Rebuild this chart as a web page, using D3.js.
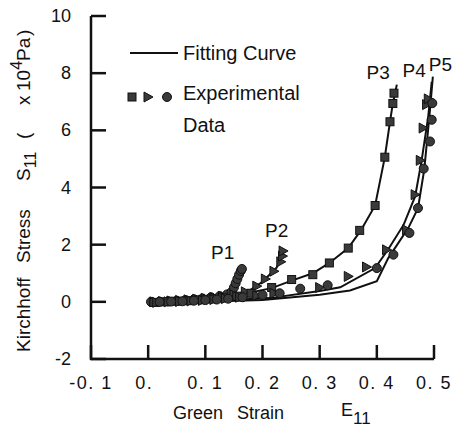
<!DOCTYPE html>
<html>
<head>
<meta charset="utf-8">
<script src="https://cdnjs.cloudflare.com/ajax/libs/d3/7.8.5/d3.min.js"></script>
<style>
  body { margin: 0; background: #fff; }
  text { font-family: "Liberation Sans", Arial, sans-serif; fill: #111; white-space: pre; }
</style>
</head>
<body>
<div id="chart"></div>
<script>
// experimental points [strain E11, stress S11 (x10^4 Pa)]
var p1Data = [[0.005,0],[0.02,0.01],[0.035,0.02],[0.05,0.04],[0.065,0.06],[0.08,0.09],[0.095,0.12],[0.11,0.16],[0.125,0.2],[0.138,0.26],[0.146,0.35],[0.15,0.5],[0.153,0.65],[0.156,0.8],[0.159,0.95],[0.162,1.08],[0.164,1.15]]
var p2Data = [[0.01,0],[0.025,0.01],[0.04,0.03],[0.055,0.05],[0.07,0.07],[0.085,0.09],[0.1,0.12],[0.115,0.15],[0.13,0.19],[0.15,0.25],[0.17,0.35],[0.19,0.55],[0.205,0.8],[0.22,1.07],[0.232,1.4],[0.235,1.6],[0.236,1.78]]
var p3Data = [[0.01,-0.02],[0.03,0],[0.05,0.02],[0.07,0.04],[0.09,0.07],[0.11,0.1],[0.13,0.14],[0.155,0.2],[0.18,0.3],[0.216,0.5],[0.251,0.78],[0.288,0.95],[0.317,1.36],[0.35,1.88],[0.37,2.5],[0.397,3.37],[0.414,5.06],[0.423,6.3],[0.428,6.94],[0.43,7.3]]
var p4Data = [[0.015,-0.02],[0.035,0],[0.055,0.01],[0.075,0.03],[0.095,0.05],[0.115,0.08],[0.135,0.11],[0.16,0.16],[0.19,0.22],[0.22,0.3],[0.3,0.5],[0.35,0.89],[0.382,1.22],[0.417,1.82],[0.452,2.52],[0.467,3.75],[0.476,4.95],[0.481,6.08],[0.487,6.9],[0.49,7.1]]
var p5Data = [[0.02,0],[0.04,0.01],[0.06,0.02],[0.08,0.04],[0.1,0.06],[0.12,0.08],[0.14,0.11],[0.165,0.16],[0.2,0.24],[0.23,0.3],[0.266,0.46],[0.314,0.58],[0.4,1.18],[0.429,1.65],[0.457,2.41],[0.472,3.28],[0.482,4.66],[0.493,5.61],[0.496,6.37],[0.497,6.95]]

// fitting curves
var p1Fit = [[0,0],[0.08,0.06],[0.13,0.25],[0.15,0.55],[0.165,1.1]]
var p2Fit = [[0,0],[0.1,0.08],[0.17,0.3],[0.2,0.7],[0.225,1.2],[0.238,1.8]]
var p3Fit = [[0.01,0],[0.1,0.1],[0.16,0.25],[0.216,0.48],[0.251,0.74],[0.288,1.0],[0.317,1.36],[0.35,1.88],[0.372,2.5],[0.397,3.37],[0.414,5.06],[0.423,6.3],[0.428,6.94],[0.435,7.6]]
var p4Fit = [[0,0],[0.1,0.02],[0.213,0.13],[0.3,0.38],[0.336,0.51],[0.397,1.18],[0.42,1.84],[0.447,2.7],[0.467,3.69],[0.478,4.9],[0.49,6.5],[0.496,7.7]]
var p5Fit = [[0,0],[0.1,0.0],[0.2,0.06],[0.3,0.25],[0.353,0.4],[0.4,0.72],[0.42,1.53],[0.455,2.58],[0.472,3.28],[0.483,4.63],[0.492,6.5],[0.498,7.88]]

var series = [
  {name: 'P1', pts: p1Data, fit: p1Fit, shape: 'circle', label: [0.110, 1.49]},
  {name: 'P2', pts: p2Data, fit: p2Fit, shape: 'triangle', label: [0.2045, 2.26]},
  {name: 'P3', pts: p3Data, fit: p3Fit, shape: 'square', label: [0.382, 7.78]},
  {name: 'P4', pts: p4Data, fit: p4Fit, shape: 'triangle', label: [0.445, 7.88]},
  {name: 'P5', pts: p5Data, fit: p5Fit, shape: 'circle', label: [0.491, 8.06]}
]

var xTicks = [-0.1, 0, 0.1, 0.2, 0.3, 0.4, 0.5]
var xTickLabels = ['-0. 1', '0.', '0. 1', '0. 2', '0. 3', '0. 4', '0. 5']
var yTicks = [-2, 0, 2, 4, 6, 8, 10]

var width = 461, height = 429

var svg = d3.select('#chart').append('svg')
  .attr('width', width)
  .attr('height', height)

var x = d3.scaleLinear().domain([-0.1, 0.5]).range([91, 434])
var y = d3.scaleLinear().domain([-2, 10]).range([359, 16])

// axes
var axes = svg.append('g').attr('stroke', '#111').attr('stroke-width', 2.5)
axes.append('line').attr('x1', x(-0.1)).attr('x2', x(-0.1)).attr('y1', y(10)).attr('y2', y(-2) + 1)
axes.append('line').attr('x1', x(-0.1) - 1).attr('x2', x(0.5)).attr('y1', y(-2)).attr('y2', y(-2))

axes.selectAll('.yt').data(yTicks).join('line')
  .attr('x1', x(-0.1)).attr('x2', x(-0.1) + 15)
  .attr('y1', d => y(d)).attr('y2', d => y(d))
axes.selectAll('.xt').data(xTicks).join('line')
  .attr('x1', d => x(d)).attr('x2', d => x(d))
  .attr('y1', y(-2)).attr('y2', y(-2) - 14)

svg.selectAll('.ylab').data(yTicks).join('text')
  .attr('x', 71).attr('y', d => y(d) + 6)
  .attr('text-anchor', 'end')
  .style('font-size', '18px')
  .text(d => d)

svg.selectAll('.xlab').data(xTicks).join('text')
  .attr('x', (d, i) => x(d) + (xTickLabels[i].endsWith('.') ? -4 : 0))
  .attr('y', 389)
  .attr('text-anchor', 'middle')
  .style('font-size', '18px')
  .style('letter-spacing', '1.5px')
  .text((d, i) => xTickLabels[i])

// axis titles
svg.append('text').attr('x', 173).attr('y', 419).style('font-size', '18px').text('Green')
svg.append('text').attr('x', 237).attr('y', 419).style('font-size', '18px').text('Strain')
var e11 = svg.append('text').attr('x', 341).attr('y', 416).style('font-size', '18px')
e11.append('tspan').text('E')
e11.append('tspan').attr('dy', 8).style('font-size', '17px').text('11')

// y title, rotated: local x = -page y
var yt = svg.append('text')
  .attr('transform', 'translate(30,0) rotate(-90)')
  .style('font-size', '19px')
yt.append('tspan').attr('x', -352).text('Kirchhoff')
yt.append('tspan').attr('x', -263).text('Stress')
yt.append('tspan').attr('x', -181).text('S')
yt.append('tspan').attr('dy', 6).style('font-size', '16px').text('11')
yt.append('tspan').attr('x', -139).attr('dy', -6).text('(')
yt.append('tspan').attr('x', -105).text('x')
yt.append('tspan').attr('x', -91).text('10')
yt.append('tspan').attr('dy', -8).style('font-size', '16px').text('4')
yt.append('tspan').attr('dy', 8).text('Pa')
yt.append('tspan').attr('x', -36).text(')')

// fitting curves
var line = d3.line().x(d => x(d[0])).y(d => y(d[1]))
svg.append('g').selectAll('path').data(series).join('path')
  .attr('d', d => line(d.fit))
  .attr('fill', 'none')
  .attr('stroke', '#111')
  .attr('stroke-width', 2)

// markers
function marker(sel, shape) {
  if (shape == 'square') {
    sel.append('rect').attr('x', -4).attr('y', -4).attr('width', 8).attr('height', 8)
  } else if (shape == 'triangle') {
    sel.append('path').attr('d', 'M-4,-5L5,0L-4,5Z')
  } else {
    sel.append('circle').attr('r', 4.5)
  }
}

series.forEach(s => {
  var g = svg.append('g')
  g.selectAll('g').data(s.pts).join('g')
    .attr('transform', d => `translate(${x(d[0])},${y(d[1])})`)
    .attr('fill', '#3a3a3a')
    .attr('stroke', '#111')
    .attr('stroke-width', 1)
    .each(function () { marker(d3.select(this), s.shape) })
  svg.append('text')
    .attr('x', x(s.label[0])).attr('y', y(s.label[1]))
    .style('font-size', '19px')
    .text(s.name)
})

// legend
svg.append('line')
  .attr('x1', 130).attr('x2', 178).attr('y1', 53).attr('y2', 53)
  .attr('stroke', '#111').attr('stroke-width', 2)
svg.append('text').attr('x', 183).attr('y', 60).style('font-size', '20px').text('Fitting Curve')
var legShapes = ['square', 'triangle', 'circle']
legShapes.forEach((sh, i) => {
  var g = svg.append('g')
    .attr('transform', `translate(${[132, 148, 167][i]},97)`)
    .attr('fill', '#3a3a3a').attr('stroke', '#111').attr('stroke-width', 1)
  marker(g, sh)
})
svg.append('text').attr('x', 183).attr('y', 100).style('font-size', '20px').text('Experimental')
svg.append('text').attr('x', 183).attr('y', 132).style('font-size', '20px').text('Data')
</script>
</body>
</html>
